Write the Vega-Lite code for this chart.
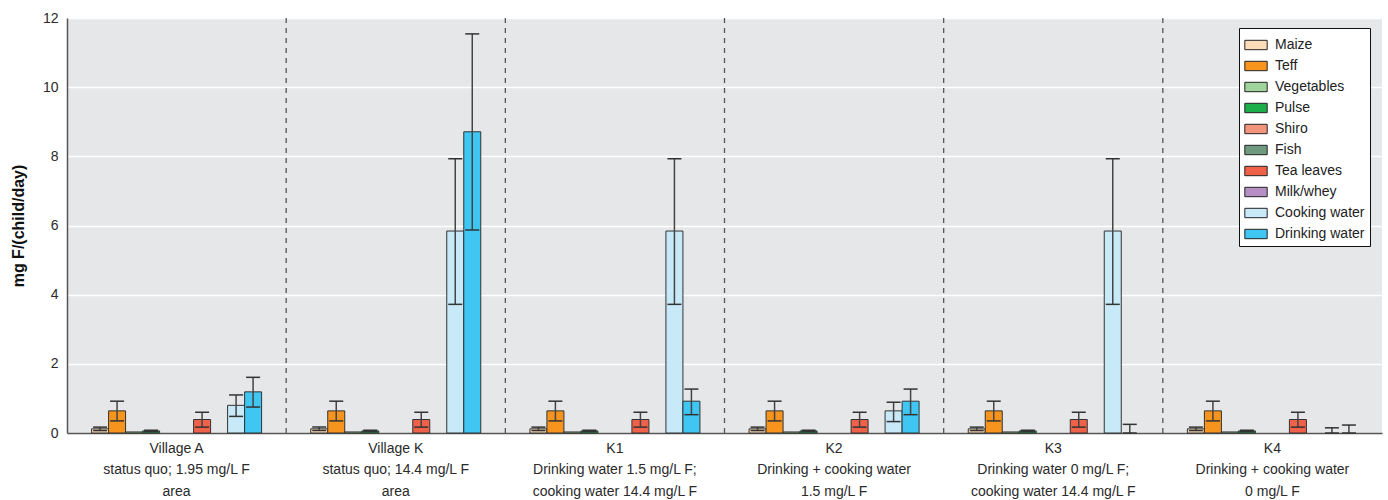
{
  "$schema": "https://vega.github.io/schema/vega-lite/v6.json",
  "width": 1315,
  "height": 415,
  "autosize": "none",
  "padding": {"left": 67, "top": 18, "right": 6, "bottom": 67},
  "background": "white",
  "config": {
    "view": {"fill": "#E6E7E9", "stroke": null},
    "font": "Liberation Sans",
    "axis": {"labelFont": "Liberation Sans", "titleFont": "Liberation Sans", "labelColor": "#2a2a2a", "titleColor": "#111"}
  },
  "datasets": {
    "fluoride": [
      {"group": "Village A|status quo; 1.95 mg/L F|area", "food": "Maize", "value": 0.12, "lo": 0.07, "hi": 0.17},
      {"group": "Village A|status quo; 1.95 mg/L F|area", "food": "Teff", "value": 0.64, "lo": 0.35, "hi": 0.92},
      {"group": "Village A|status quo; 1.95 mg/L F|area", "food": "Vegetables", "value": 0.03, "lo": 0.03, "hi": 0.03},
      {"group": "Village A|status quo; 1.95 mg/L F|area", "food": "Pulse", "value": 0.06, "lo": 0.04, "hi": 0.08},
      {"group": "Village A|status quo; 1.95 mg/L F|area", "food": "Tea leaves", "value": 0.39, "lo": 0.17, "hi": 0.6},
      {"group": "Village A|status quo; 1.95 mg/L F|area", "food": "Cooking water", "value": 0.8, "lo": 0.48, "hi": 1.1},
      {"group": "Village A|status quo; 1.95 mg/L F|area", "food": "Drinking water", "value": 1.19, "lo": 0.75, "hi": 1.61},
      {"group": "Village K|status quo; 14.4 mg/L F|area", "food": "Maize", "value": 0.12, "lo": 0.07, "hi": 0.17},
      {"group": "Village K|status quo; 14.4 mg/L F|area", "food": "Teff", "value": 0.64, "lo": 0.35, "hi": 0.92},
      {"group": "Village K|status quo; 14.4 mg/L F|area", "food": "Vegetables", "value": 0.03, "lo": 0.03, "hi": 0.03},
      {"group": "Village K|status quo; 14.4 mg/L F|area", "food": "Pulse", "value": 0.06, "lo": 0.04, "hi": 0.08},
      {"group": "Village K|status quo; 14.4 mg/L F|area", "food": "Tea leaves", "value": 0.39, "lo": 0.17, "hi": 0.6},
      {"group": "Village K|status quo; 14.4 mg/L F|area", "food": "Cooking water", "value": 5.84, "lo": 3.72, "hi": 7.93},
      {"group": "Village K|status quo; 14.4 mg/L F|area", "food": "Drinking water", "value": 8.71, "lo": 5.87, "hi": 11.54},
      {"group": "K1|Drinking water 1.5 mg/L F;|cooking water 14.4 mg/L F", "food": "Maize", "value": 0.12, "lo": 0.07, "hi": 0.17},
      {"group": "K1|Drinking water 1.5 mg/L F;|cooking water 14.4 mg/L F", "food": "Teff", "value": 0.64, "lo": 0.35, "hi": 0.92},
      {"group": "K1|Drinking water 1.5 mg/L F;|cooking water 14.4 mg/L F", "food": "Vegetables", "value": 0.03, "lo": 0.03, "hi": 0.03},
      {"group": "K1|Drinking water 1.5 mg/L F;|cooking water 14.4 mg/L F", "food": "Pulse", "value": 0.06, "lo": 0.04, "hi": 0.08},
      {"group": "K1|Drinking water 1.5 mg/L F;|cooking water 14.4 mg/L F", "food": "Tea leaves", "value": 0.39, "lo": 0.17, "hi": 0.6},
      {"group": "K1|Drinking water 1.5 mg/L F;|cooking water 14.4 mg/L F", "food": "Cooking water", "value": 5.84, "lo": 3.72, "hi": 7.93},
      {"group": "K1|Drinking water 1.5 mg/L F;|cooking water 14.4 mg/L F", "food": "Drinking water", "value": 0.92, "lo": 0.53, "hi": 1.27},
      {"group": "K2|Drinking + cooking water|1.5 mg/L F", "food": "Maize", "value": 0.12, "lo": 0.07, "hi": 0.17},
      {"group": "K2|Drinking + cooking water|1.5 mg/L F", "food": "Teff", "value": 0.64, "lo": 0.35, "hi": 0.92},
      {"group": "K2|Drinking + cooking water|1.5 mg/L F", "food": "Vegetables", "value": 0.03, "lo": 0.03, "hi": 0.03},
      {"group": "K2|Drinking + cooking water|1.5 mg/L F", "food": "Pulse", "value": 0.06, "lo": 0.04, "hi": 0.08},
      {"group": "K2|Drinking + cooking water|1.5 mg/L F", "food": "Tea leaves", "value": 0.39, "lo": 0.17, "hi": 0.6},
      {"group": "K2|Drinking + cooking water|1.5 mg/L F", "food": "Cooking water", "value": 0.64, "lo": 0.33, "hi": 0.89},
      {"group": "K2|Drinking + cooking water|1.5 mg/L F", "food": "Drinking water", "value": 0.92, "lo": 0.53, "hi": 1.27},
      {"group": "K3|Drinking water 0 mg/L F;|cooking water 14.4 mg/L F", "food": "Maize", "value": 0.12, "lo": 0.07, "hi": 0.17},
      {"group": "K3|Drinking water 0 mg/L F;|cooking water 14.4 mg/L F", "food": "Teff", "value": 0.64, "lo": 0.35, "hi": 0.92},
      {"group": "K3|Drinking water 0 mg/L F;|cooking water 14.4 mg/L F", "food": "Vegetables", "value": 0.03, "lo": 0.03, "hi": 0.03},
      {"group": "K3|Drinking water 0 mg/L F;|cooking water 14.4 mg/L F", "food": "Pulse", "value": 0.06, "lo": 0.04, "hi": 0.08},
      {"group": "K3|Drinking water 0 mg/L F;|cooking water 14.4 mg/L F", "food": "Tea leaves", "value": 0.39, "lo": 0.17, "hi": 0.6},
      {"group": "K3|Drinking water 0 mg/L F;|cooking water 14.4 mg/L F", "food": "Cooking water", "value": 5.84, "lo": 3.72, "hi": 7.93},
      {"group": "K3|Drinking water 0 mg/L F;|cooking water 14.4 mg/L F", "food": "Drinking water", "value": 0, "lo": 0, "hi": 0.25},
      {"group": "K4|Drinking + cooking water|0 mg/L F", "food": "Maize", "value": 0.12, "lo": 0.07, "hi": 0.17},
      {"group": "K4|Drinking + cooking water|0 mg/L F", "food": "Teff", "value": 0.64, "lo": 0.35, "hi": 0.92},
      {"group": "K4|Drinking + cooking water|0 mg/L F", "food": "Vegetables", "value": 0.03, "lo": 0.03, "hi": 0.03},
      {"group": "K4|Drinking + cooking water|0 mg/L F", "food": "Pulse", "value": 0.06, "lo": 0.04, "hi": 0.08},
      {"group": "K4|Drinking + cooking water|0 mg/L F", "food": "Tea leaves", "value": 0.39, "lo": 0.17, "hi": 0.6},
      {"group": "K4|Drinking + cooking water|0 mg/L F", "food": "Cooking water", "value": 0, "lo": 0, "hi": 0.15},
      {"group": "K4|Drinking + cooking water|0 mg/L F", "food": "Drinking water", "value": 0, "lo": 0, "hi": 0.23}
    ],
    "separators": [
      {"group": "Village K|status quo; 14.4 mg/L F|area"},
      {"group": "K1|Drinking water 1.5 mg/L F;|cooking water 14.4 mg/L F"},
      {"group": "K2|Drinking + cooking water|1.5 mg/L F"},
      {"group": "K3|Drinking water 0 mg/L F;|cooking water 14.4 mg/L F"},
      {"group": "K4|Drinking + cooking water|0 mg/L F"}
    ]
  },
  "encoding": {
    "x": {
      "field": "group",
      "type": "nominal",
      "sort": null,
      "scale": {"paddingInner": 0, "paddingOuter": 0, "domain": [
        "Village A|status quo; 1.95 mg/L F|area",
        "Village K|status quo; 14.4 mg/L F|area",
        "K1|Drinking water 1.5 mg/L F;|cooking water 14.4 mg/L F",
        "K2|Drinking + cooking water|1.5 mg/L F",
        "K3|Drinking water 0 mg/L F;|cooking water 14.4 mg/L F",
        "K4|Drinking + cooking water|0 mg/L F"
      ]},
      "axis": {
        "title": null,
        "labelAngle": 0,
        "labelExpr": "split(datum.value, '|')",
        "labelFontSize": 14,
        "labelLineHeight": 21.5,
        "labelPadding": 8,
        "ticks": false,
        "domainColor": "#555",
        "domainWidth": 1.5,
        "grid": false
      }
    }
  },
  "layer": [
    {
      "data": {"name": "fluoride"},
      "transform": [{"filter": "datum.value > 0"}],
      "mark": {"type": "bar", "stroke": "#333", "strokeWidth": 1},
      "encoding": {
        "xOffset": {"field": "food", "type": "nominal", "scale": {"domain": ["padA", "Maize", "Teff", "Vegetables", "Pulse", "Shiro", "Fish", "Tea leaves", "Milk/whey", "Cooking water", "Drinking water", "padB"], "paddingInner": 0, "paddingOuter": 0.445}},
        "y": {
          "field": "value",
          "type": "quantitative",
          "scale": {"domain": [0, 12]},
          "axis": {
            "title": "mg F/(child/day)",
            "titleFontSize": 16,
            "titleFontWeight": "bold",
            "titlePadding": 16,
            "values": [0, 2, 4, 6, 8, 10, 12],
            "labelFontSize": 14,
            "labelPadding": 9,
            "ticks": false,
            "gridColor": "white",
            "gridWidth": 1.5,
            "domainColor": "#555",
            "domainWidth": 1.5
          }
        },
        "color": {
          "field": "food",
          "type": "nominal",
          "scale": {
            "domain": ["Maize", "Teff", "Vegetables", "Pulse", "Shiro", "Fish", "Tea leaves", "Milk/whey", "Cooking water", "Drinking water"],
            "range": ["#FDDDB8", "#F7941D", "#9FD49C", "#1BAE4B", "#F4947A", "#6F9A80", "#F0614A", "#B68FC4", "#C7E9F8", "#3FC6F2"]
          },
          "legend": {
            "title": null,
            "orient": "none",
            "legendX": 1172,
            "legendY": 10,
            "fillColor": "white",
            "strokeColor": "#111",
            "padding": 5,
            "symbolType": "M-1,-0.42H1V0.42H-1Z",
            "symbolSize": 500,
            "symbolStrokeColor": "#222",
            "symbolStrokeWidth": 1,
            "labelFontSize": 14,
            "labelFont": "Liberation Sans",
            "labelColor": "#222",
            "labelOffset": 7,
            "rowPadding": 2
          }
        }
      }
    },
    {
      "data": {"name": "fluoride"},
      "transform": [{"filter": "datum.hi > datum.lo"}],
      "mark": {"type": "rule", "color": "#444", "strokeWidth": 1.5},
      "encoding": {
        "xOffset": {"field": "food", "type": "nominal", "scale": {"domain": ["padA", "Maize", "Teff", "Vegetables", "Pulse", "Shiro", "Fish", "Tea leaves", "Milk/whey", "Cooking water", "Drinking water", "padB"], "paddingInner": 0, "paddingOuter": 0.445}},
        "y": {"field": "lo", "type": "quantitative"},
        "y2": {"field": "hi"}
      }
    },
    {
      "data": {"name": "fluoride"},
      "transform": [{"filter": "datum.hi > datum.lo"}, {"fold": ["lo", "hi"], "as": ["end", "ev"]}],
      "mark": {"type": "tick", "color": "#333", "thickness": 1.5, "size": 14, "opacity": 1},
      "encoding": {
        "xOffset": {"field": "food", "type": "nominal", "scale": {"domain": ["padA", "Maize", "Teff", "Vegetables", "Pulse", "Shiro", "Fish", "Tea leaves", "Milk/whey", "Cooking water", "Drinking water", "padB"], "paddingInner": 0, "paddingOuter": 0.445}},
        "y": {"field": "ev", "type": "quantitative"}
      }
    },
    {
      "data": {"name": "separators"},
      "mark": {"type": "rule", "color": "#555", "strokeWidth": 1.3, "strokeDash": [5, 5]},
      "encoding": {
        "x": {"field": "group", "type": "nominal", "bandPosition": 0}
      }
    }
  ]
}
